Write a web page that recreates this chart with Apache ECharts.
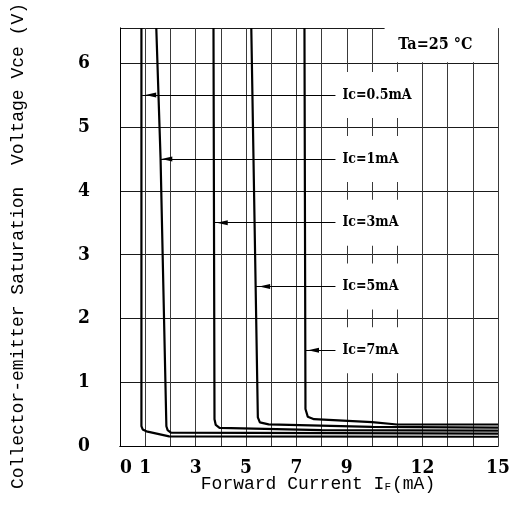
<!DOCTYPE html>
<html>
<head>
<meta charset="utf-8">
<script src="https://cdn.jsdelivr.net/npm/echarts@6/dist/echarts.min.js"></script>
<style>
  html, body { margin: 0; padding: 0; background: #fff; }
  #chart { width: 516px; height: 520px; }
</style>
</head>
<body>
<div id="chart"></div>
<script>
// Vce(sat) versus forward current IF, one curve per collector current
const curveNames = ['Ic=0.5mA', 'Ic=1mA', 'Ic=3mA', 'Ic=5mA', 'Ic=7mA'];

// [IF (mA), Vce (V)]
const curveIc05 = [[0.85, 6.55], [0.85, 0.31], [0.9, 0.26], [1.05, 0.23], [1.95, 0.15], [15, 0.145]];
const curveIc1  = [[1.44, 6.55], [1.61, 4.5], [1.84, 0.31], [1.89, 0.25], [2.02, 0.21], [15, 0.193]];
const curveIc3  = [[3.71, 6.55], [3.75, 0.42], [3.8, 0.33], [3.95, 0.285], [8, 0.25], [15, 0.241]];
const curveIc5  = [[5.21, 6.55], [5.47, 0.45], [5.55, 0.37], [5.9, 0.34], [10, 0.3], [15, 0.289]];
const curveIc7  = [[7.32, 6.55], [7.36, 0.58], [7.45, 0.46], [7.7, 0.42], [10, 0.375], [11, 0.337], [15, 0.337]];
const curves = [curveIc05, curveIc1, curveIc3, curveIc5, curveIc7];

// callout leaders: height of each leader (V), where it meets its curve (mA), arrow tip (mA), common end (mA)
const leaderY = [5.5, 4.5, 3.5, 2.5, 1.5];
const leaderStartX = [0.88, 1.62, 3.76, 5.4, 7.38];
const leaderTipX = [1.0, 1.64, 3.84, 5.52, 7.46];
const leaderEndX = 8.55;

const xTickLabels = [0, 1, 3, 5, 7, 9, 12, 15];
const yTickLabels = [0, 1, 2, 3, 4, 5, 6];
const ambientNote = 'Ta=25 °C';

const X_MIN = 0, X_MAX = 15, Y_MIN = 0, Y_MAX = 6.55;
const GRID = { left: 120, right: 18, top: 25, bottom: 74 };
const CHART_W = 516;

const serifBold = "'DejaVu Serif Condensed', 'Liberation Serif', serif";
const mono = "'Liberation Mono', 'DejaVu Sans Mono', monospace";

// arrow head: [width, length] in px
const ARROW = [5, 11];
const pxPerMA = (CHART_W - GRID.left - GRID.right) / (X_MAX - X_MIN);

const chart = echarts.init(document.getElementById('chart'), null, { renderer: 'canvas' });

const series = curves.map((pts, i) => {
  const arrowCenterX = leaderTipX[i] + (ARROW[1] / 2) / pxPerMA;
  const s = {
    name: curveNames[i],
    type: 'line',
    data: pts,
    showSymbol: false,
    smooth: false,
    clip: true,
    silent: true,
    z: 3,
    lineStyle: { color: '#000', width: 2.2 },
    markLine: {
      silent: true,
      symbol: ['none', 'none'],
      animation: false,
      z: 4,
      lineStyle: { color: '#000', width: 1, type: 'solid' },
      emphasis: { disabled: true },
      label: {
        show: true,
        position: 'end',
        distance: 5,
        formatter: curveNames[i],
        color: '#000',
        fontFamily: serifBold,
        fontWeight: 'bold',
        fontSize: 14,
        backgroundColor: '#fff',
        padding: [16, 5, 16, 2]
      },
      data: [[
        { coord: [leaderStartX[i], leaderY[i]] },
        { coord: [leaderEndX, leaderY[i]] }
      ]]
    },
    markPoint: {
      silent: true,
      animation: false,
      z: 5,
      symbol: 'triangle',
      symbolSize: ARROW,
      symbolRotate: 90,
      itemStyle: { color: '#000' },
      label: { show: false },
      emphasis: { disabled: true },
      data: [{ coord: [arrowCenterX, leaderY[i]] }]
    }
  };
  if (i === 0) {
    s.markArea = {
      silent: true,
      z: 2,
      itemStyle: { color: '#fff', borderWidth: 0 },
      emphasis: { disabled: true },
      label: {
        show: true,
        position: 'inside',
        offset: [-6, 0],
        formatter: ambientNote,
        color: '#000',
        fontFamily: serifBold,
        fontWeight: 'bold',
        fontSize: 16
      },
      data: [[{ coord: [10.5, 6.015] }, { coord: [X_MAX, Y_MAX] }]]
    };
  }
  return s;
});

const option = {
  backgroundColor: '#fff',
  animation: false,
  grid: { left: GRID.left, right: GRID.right, top: GRID.top, bottom: GRID.bottom, containLabel: false },
  xAxis: [
    {
      type: 'value',
      min: X_MIN, max: X_MAX, interval: 1,
      position: 'bottom',
      axisLine: { show: true, lineStyle: { color: '#000', width: 1 } },
      axisTick: { show: false },
      splitLine: { show: true, lineStyle: { color: '#3a3a3a', width: 1 } },
      axisLabel: {
        margin: 13,
        alignMinLabel: 'left',
        color: '#000',
        fontFamily: serifBold,
        fontWeight: 'bold',
        fontSize: 19,
        formatter: v => (xTickLabels.includes(v) ? String(v) : '')
      },
      name: 'Forward Current I{s|F}(mA)',
      nameLocation: 'middle',
      nameMoveOverlap: false,
      nameGap: 29,
      nameTextStyle: {
        color: '#000',
        fontFamily: mono,
        fontSize: 18,
        padding: [0, 0, 0, 18],
        rich: {
          s: { fontFamily: mono, fontSize: 11, color: '#000', verticalAlign: 'bottom', padding: [0, 1, 0, 0] }
        }
      }
    },
    {
      type: 'value', gridIndex: 0, position: 'top', min: 0, max: 1, z: 10,
      axisLine: { show: true, lineStyle: { color: '#000', width: 1 } },
      axisTick: { show: false }, axisLabel: { show: false }, splitLine: { show: false }
    }
  ],
  yAxis: [
    {
      type: 'value',
      min: Y_MIN, max: Y_MAX, interval: 1,
      position: 'left',
      axisLine: { show: true, lineStyle: { color: '#000', width: 1 } },
      axisTick: { show: false },
      splitLine: { show: true, lineStyle: { color: '#1a1a1a', width: 1 } },
      axisLabel: {
        margin: 30,
        color: '#000',
        fontFamily: serifBold,
        fontWeight: 'bold',
        fontSize: 19,
        formatter: v => (yTickLabels.includes(v) ? String(v) : '')
      },
      name: 'Collector-emitter Saturation  Voltage Vce (V)',
      nameLocation: 'middle',
      nameMoveOverlap: false,
      nameRotate: 90,
      nameGap: 93,
      nameTextStyle: {
        color: '#000',
        fontFamily: mono,
        fontSize: 18,
        padding: [0, 18, 0, 0]
      }
    },
    {
      type: 'value', gridIndex: 0, position: 'right', min: 0, max: 1, z: 10,
      axisLine: { show: true, lineStyle: { color: '#000', width: 1 } },
      axisTick: { show: false }, axisLabel: { show: false }, splitLine: { show: false }
    }
  ],
  series: series
};

chart.setOption(option);
</script>
</body>
</html>
